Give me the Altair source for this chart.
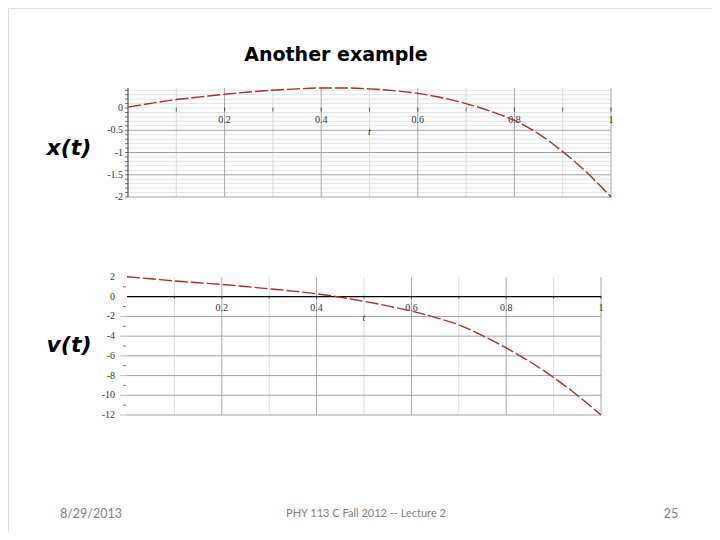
import altair as alt
import pandas as pd

# ---------------- data ----------------
t_vals = [0.0, 0.05, 0.1, 0.15, 0.2, 0.25, 0.3, 0.35, 0.4, 0.45, 0.5,
          0.55, 0.6, 0.65, 0.7, 0.75, 0.8, 0.85, 0.9, 0.95, 1.0]
x_vals = [0.02, 0.11, 0.19, 0.25, 0.31, 0.36, 0.40, 0.43, 0.45, 0.45, 0.43,
          0.39, 0.33, 0.23, 0.10, -0.07, -0.28, -0.58, -0.98, -1.45, -2.0]
v_vals = [2.03, 1.82, 1.60, 1.42, 1.25, 1.03, 0.80, 0.57, 0.30, -0.05, -0.47,
          -0.93, -1.46, -2.10, -2.85, -3.95, -5.20, -6.60, -8.20, -10.0, -12.0]

x_ticks = [0.1, 0.2, 0.3, 0.4, 0.5, 0.6, 0.7, 0.8, 0.9, 1.0]
x_minor_grid = [0.1, 0.3, 0.5, 0.7, 0.9]
x_major_grid = [0.2, 0.4, 0.6, 0.8, 1.0]
x_tick_labels = [0.2, 0.4, 0.6, 0.8, 1.0]
x_tick_texts = ["0.2", "0.4", "0.6", "0.8", "1"]

top_y_ticks = [round(-2.0 + 0.1 * i, 1) for i in range(25)]
top_y_major = [-0.5, -1.0, -1.5, -2.0]
top_y_minor = [v for v in top_y_ticks if v not in top_y_major]
top_y_labels = [0.0, -0.5, -1.0, -1.5, -2.0]
top_y_texts = ["0", "-0.5", "-1", "-1.5", "-2"]
top_domain = [-2.0, 0.45]

bot_y_labels = [2, 0, -2, -4, -6, -8, -10, -12]
bot_y_texts = ["2", "0", "-2", "-4", "-6", "-8", "-10", "-12"]
bot_y_major = [-2, -4, -6, -8, -10, -12]
bot_y_minor = [1, -1, -3, -5, -7, -9, -11]
bot_domain = [-12.0, 2.0]

title_text = "Another example"
panel_labels = ["x(t)", "v(t)"]
axis_title = "t"
footer_texts = ["8/29/2013", "PHY 113 C  Fall 2012 -- Lecture 2", "25"]

# ---------------- scales (pixel ranges place the panels) ----------------
xs_top = alt.Scale(domain=[0, 1], range=[120, 603], nice=False, zero=False)
ys_top = alt.Scale(domain=top_domain, range=[189, 80], nice=False, zero=False)
xs_bot = alt.Scale(domain=[0, 1], range=[119, 593], nice=False, zero=False)
ys_bot = alt.Scale(domain=bot_domain, range=[407, 269], nice=False, zero=False)

SERIF = "Liberation Serif"
LABEL_COLOR = "#333333"
LABEL_SIZE = 10


def enc(xf, yf, xs, ys, **extra):
    return dict(x=alt.X(xf, scale=xs, axis=None), y=alt.Y(yf, scale=ys, axis=None), **extra)


def vrules(vals, xs, ys, dom, color, width=1.0):
    df = pd.DataFrame({"g": vals, "lo": dom[0], "hi": dom[1]})
    return alt.Chart(df).mark_rule(color=color, strokeWidth=width).encode(
        **enc("g:Q", "lo:Q", xs, ys, y2="hi:Q"))


def hrules(vals, xs, ys, color, width=1.0):
    df = pd.DataFrame({"g": vals, "lo": 0.0, "hi": 1.0})
    return alt.Chart(df).mark_rule(color=color, strokeWidth=width).encode(
        **enc("lo:Q", "g:Q", xs, ys, x2="hi:Q"))


def xticks(vals, xs, ys, size, color, yoff):
    df = pd.DataFrame({"g": vals, "z": 0.0})
    return alt.Chart(df).mark_tick(orient="vertical", size=size, thickness=1,
                                   color=color, yOffset=yoff).encode(
        **enc("g:Q", "z:Q", xs, ys))


def yticks(vals, xs, ys, size, color, xoff):
    df = pd.DataFrame({"g": vals, "z": 0.0})
    return alt.Chart(df).mark_tick(orient="horizontal", size=size, thickness=1,
                                   color=color, xOffset=xoff).encode(
        **enc("z:Q", "g:Q", xs, ys))


def xlabels(vals, texts, xs, ys, dy):
    df = pd.DataFrame({"g": vals, "z": 0.0, "s": texts})
    return alt.Chart(df).mark_text(font=SERIF, fontSize=LABEL_SIZE, color=LABEL_COLOR,
                                   dy=dy, baseline="middle", align="center").encode(
        **enc("g:Q", "z:Q", xs, ys, text="s:N"))


def ylabels(vals, texts, xs, ys, dx):
    df = pd.DataFrame({"g": vals, "z": 0.0, "s": texts})
    return alt.Chart(df).mark_text(font=SERIF, fontSize=LABEL_SIZE, color=LABEL_COLOR,
                                   dx=dx, baseline="middle", align="right").encode(
        **enc("z:Q", "g:Q", xs, ys, text="s:N"))


def tlabel(xs, ys, dy):
    df = pd.DataFrame({"g": [0.5], "z": [0.0], "s": [axis_title]})
    return alt.Chart(df).mark_text(font=SERIF, fontSize=LABEL_SIZE, fontStyle="italic",
                                   color=LABEL_COLOR, dy=dy, baseline="middle").encode(
        **enc("g:Q", "z:Q", xs, ys, text="s:N"))


def curve(vals, xs, ys):
    df = pd.DataFrame({"t": t_vals, "y": vals})
    return alt.Chart(df).mark_line(color="#b22a2a", strokeWidth=1.4,
                                   strokeDash=[13, 3], interpolate="monotone").encode(
        **enc("t:Q", "y:Q", xs, ys))


# ---------------- top panel ----------------
top_axis_line = alt.Chart(pd.DataFrame({"z": [0.0], "lo": [top_domain[0]], "hi": [top_domain[1]]})).mark_rule(
    color="#333333", strokeWidth=1).encode(**enc("z:Q", "lo:Q", xs_top, ys_top, y2="hi:Q"))

top = alt.layer(
    hrules(top_y_minor, xs_top, ys_top, "#e4e4e4"),
    vrules(x_minor_grid, xs_top, ys_top, top_domain, "#dcdcdc"),
    vrules(x_major_grid, xs_top, ys_top, top_domain, "#a8a8a8"),
    hrules(top_y_major, xs_top, ys_top, "#a0a0a0"),
    top_axis_line,
    yticks(top_y_ticks, xs_top, ys_top, 3, "#333333", -1.5),
    xticks(x_ticks, xs_top, ys_top, 4, "#222222", 1.5),
    xlabels(x_tick_labels, x_tick_texts, xs_top, ys_top, 12),
    ylabels(top_y_labels, top_y_texts, xs_top, ys_top, -5),
    tlabel(xs_top, ys_top, 24),
    curve(x_vals, xs_top, ys_top),
)

# ---------------- bottom panel ----------------
bot_axis_line = alt.Chart(pd.DataFrame({"z": [0.0], "lo": [0.0], "hi": [1.0]})).mark_rule(
    color="#000000", strokeWidth=1.3).encode(**enc("lo:Q", "z:Q", xs_bot, ys_bot, x2="hi:Q"))

bot = alt.layer(
    vrules(x_minor_grid, xs_bot, ys_bot, bot_domain, "#dcdcdc"),
    vrules(x_major_grid, xs_bot, ys_bot, bot_domain, "#a8a8a8"),
    hrules(bot_y_major, xs_bot, ys_bot, "#a0a0a0"),
    yticks(bot_y_major, xs_bot, ys_bot, 7, "#a0a0a0", -3.5),
    yticks(bot_y_minor, xs_bot, ys_bot, 3, "#333333", -2.5),
    bot_axis_line,
    xticks(x_ticks, xs_bot, ys_bot, 3, "#222222", 0.5),
    xlabels(x_tick_labels, x_tick_texts, xs_bot, ys_bot, 11),
    ylabels(bot_y_labels, bot_y_texts, xs_bot, ys_bot, -12),
    tlabel(xs_bot, ys_bot, 21),
    curve(v_vals, xs_bot, ys_bot),
)

# ---------------- slide texts ----------------
one = pd.DataFrame({"a": [0]})


def label(text, x, y, **kw):
    return alt.Chart(one).mark_text(baseline="middle", align="center", **kw).encode(
        x=alt.value(x), y=alt.value(y), text=alt.value(text))


texts = [
    label(title_text, 328, 47, font="DejaVu Sans", fontSize=19,
          fontWeight="bold", color="#000000"),
    label(panel_labels[0], 61, 140, font="DejaVu Sans", fontSize=22,
          fontWeight="bold", fontStyle="italic", color="#000000"),
    label(panel_labels[1], 61, 337, font="DejaVu Sans", fontSize=22,
          fontWeight="bold", fontStyle="italic", color="#000000"),
    label(footer_texts[0], 83, 506, font="Lato", fontSize=12.5, color="#7f7f7f"),
    label(footer_texts[1], 358, 506, font="Lato", fontSize=11, color="#7f7f7f"),
    label(footer_texts[2], 663, 506, font="Lato", fontSize=12.5, color="#7f7f7f"),
]

chart = alt.layer(top, bot, *texts).resolve_scale(
    x="independent", y="independent"
).properties(
    width=704, height=524, autosize=alt.AutoSizeParams(type="none"), padding=0
).configure_view(stroke=None, strokeWidth=0).configure(background="white")

chart.save("out.html", embed_options={"renderer": "svg", "actions": False})
